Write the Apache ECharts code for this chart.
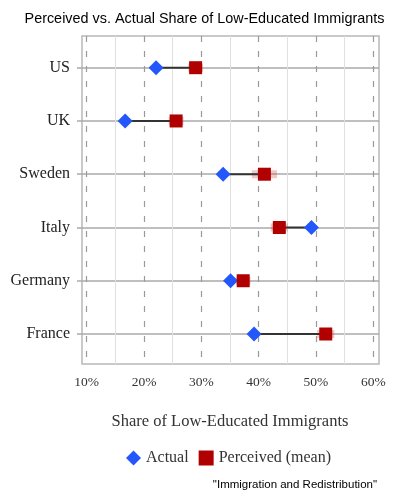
<!DOCTYPE html>
<html>
<head>
<meta charset="utf-8">
<script src="https://cdn.jsdelivr.net/npm/echarts@6/dist/echarts.min.js"></script>
<style>
  html, body { margin: 0; padding: 0; background: #fff; }
  #chart { width: 409px; height: 497px; }
</style>
</head>
<body>
<div id="chart"></div>
<script>
// data (percent)
var countries = ['US', 'UK', 'Sweden', 'Italy', 'Germany', 'France'];
var actual = [22.1, 16.7, 33.8, 49.2, 35.1, 39.2];
var perceived = [29.0, 25.6, 41.0, 43.6, 37.3, 51.7];
var perceivedLow = [27.7, 24.3, 38.8, 42.1, 36.0, 50.2];
var perceivedHigh = [30.3, 26.9, 43.2, 45.1, 38.6, 53.2];

var serif = '"Liberation Serif", "DejaVu Serif", serif';
var sans = '"Liberation Sans", Arial, sans-serif';
var blue = '#2457fb';
var red = '#b00000';

var chart = echarts.init(document.getElementById('chart'));

var option = {
    animation: false,
    backgroundColor: '#fff',
    title: [
        {
            text: 'Perceived vs. Actual Share of Low-Educated Immigrants',
            left: 'center', top: 7,
            textStyle: { fontFamily: sans, fontSize: 14.4, fontWeight: 'normal', color: '#000' }
        },
        {
            text: '"Immigration and Redistribution"',
            right: 27, bottom: 1,
            textStyle: { fontFamily: sans, fontSize: 11.5, fontWeight: 'normal', color: '#000' }
        }
    ],
    legend: {
        data: [
            { name: 'Actual', icon: 'diamond' },
            { name: 'Perceived (mean)', icon: 'rect' }
        ],
        left: 121, top: 445,
        itemWidth: 15, itemHeight: 15, itemGap: 10,
        textStyle: { fontFamily: serif, fontSize: 16, color: '#333' }
    },
    grid: [
        // x axis + vertical grid lines
        { left: 86.7, right: 35.7, top: 36, bottom: 133 },
        // frame
        { left: 82, right: 30, top: 36, bottom: 133, show: true, borderColor: '#b8b8b8', borderWidth: 1.5 },
        // rows
        { left: 82, right: 30, top: 67.7, bottom: 163 }
    ],
    xAxis: [
        {
            gridIndex: 0, type: 'value', min: 10, max: 60, interval: 10,
            name: 'Share of Low-Educated Immigrants',
            nameLocation: 'middle', nameGap: 49,
            nameTextStyle: { fontFamily: serif, fontSize: 16.5, color: '#333' },
            axisLine: { show: false },
            axisTick: { show: false },
            axisLabel: { formatter: '{value}%', margin: 11, fontFamily: serif, fontSize: 13.5, color: '#333' },
            splitLine: { show: true, lineStyle: { color: '#9a9a9a', width: 1.2, type: [6, 9] } },
            minorTick: { show: false, splitNumber: 2 },
            minorSplitLine: { show: true, lineStyle: { color: '#e0e0e0', width: 1 } }
        },
        { gridIndex: 1, type: 'value', show: false },
        { gridIndex: 2, type: 'value', show: false, min: 9.18, max: 60.99 }
    ],
    yAxis: [
        { gridIndex: 0, type: 'value', show: false },
        { gridIndex: 1, type: 'value', show: false },
        {
            gridIndex: 2, type: 'category', data: countries, inverse: true, boundaryGap: false,
            axisLine: { show: false },
            axisTick: { show: true, length: 5, interval: 0, lineStyle: { color: '#aaa', width: 1.5 } },
            axisLabel: { margin: 12, interval: 0, fontFamily: serif, fontSize: 16, color: '#222' },
            splitLine: { show: true, interval: 0, lineStyle: { color: '#aaa', width: 1.5 } }
        }
    ],
    series: [
        {
            name: 'ci', type: 'custom', xAxisIndex: 2, yAxisIndex: 2, z: 3,
            encode: { x: [0, 1], y: 2 },
            data: countries.map(function (c, i) { return [perceivedLow[i], perceivedHigh[i], c]; }),
            renderItem: function (params, api) {
                var lo = api.coord([api.value(0), api.value(2)]);
                var hi = api.coord([api.value(1), api.value(2)]);
                return {
                    type: 'rect',
                    shape: { x: lo[0], y: lo[1] - 4, width: hi[0] - lo[0], height: 8 },
                    style: { fill: 'rgba(220,70,70,0.3)' }
                };
            },
            silent: true
        },
        {
            name: 'gap', type: 'custom', xAxisIndex: 2, yAxisIndex: 2, z: 4,
            encode: { x: [0, 1], y: 2 },
            data: countries.map(function (c, i) { return [actual[i], perceived[i], c]; }),
            renderItem: function (params, api) {
                var a = api.coord([api.value(0), api.value(2)]);
                var b = api.coord([api.value(1), api.value(2)]);
                return {
                    type: 'line',
                    shape: { x1: a[0], y1: a[1], x2: b[0], y2: b[1] },
                    style: { stroke: '#333', lineWidth: 2 }
                };
            },
            silent: true
        },
        {
            name: 'Actual', type: 'scatter', xAxisIndex: 2, yAxisIndex: 2, z: 5,
            symbol: 'diamond', symbolSize: 15,
            itemStyle: { color: blue, opacity: 1 },
            data: countries.map(function (c, i) { return [actual[i], c]; })
        },
        {
            name: 'Perceived (mean)', type: 'scatter', xAxisIndex: 2, yAxisIndex: 2, z: 6,
            symbol: 'rect', symbolSize: 13,
            itemStyle: { color: red, opacity: 1 },
            data: countries.map(function (c, i) { return [perceived[i], c]; })
        }
    ]
};

chart.setOption(option);
</script>
</body>
</html>
